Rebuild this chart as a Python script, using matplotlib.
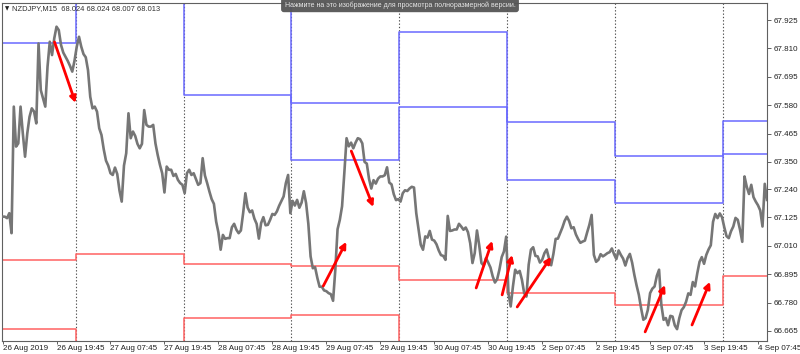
import matplotlib
matplotlib.use("Agg")
import matplotlib.pyplot as plt
import numpy as np

# ---------------- data ----------------
# half-hourly close prices (every 2 M15 bars), starting 26 Aug 2019 07:45
closes = [
 67.128, 67.128, 67.122, 67.142, 67.061, 67.574, 67.412, 67.425, 67.574, 67.466,
 67.371, 67.466, 67.533, 67.567, 67.554, 67.506, 67.830, 67.641, 67.608, 67.574,
 67.736, 67.837, 67.783, 67.851, 67.898, 67.884, 67.824, 67.793, 67.776, 67.759,
 67.739, 67.716, 67.760, 67.817, 67.857, 67.817, 67.787, 67.774, 67.722, 67.614,
 67.567, 67.574, 67.554, 67.486, 67.459, 67.401, 67.355, 67.335, 67.304, 67.297,
 67.327, 67.301, 67.234, 67.189, 67.335, 67.385, 67.547, 67.446, 67.473, 67.455,
 67.423, 67.405, 67.423, 67.560, 67.500, 67.493, 67.493, 67.500, 67.425, 67.378,
 67.338, 67.304, 67.226, 67.331, 67.318, 67.318, 67.293, 67.301, 67.277, 67.264,
 67.257, 67.223, 67.304, 67.318, 67.297, 67.304, 67.280, 67.257, 67.264, 67.365,
 67.295, 67.264, 67.230, 67.199, 67.180, 67.108, 67.064, 66.994, 67.054, 67.038,
 67.041, 67.041, 67.085, 67.099, 67.075, 67.061, 67.072, 67.142, 67.223, 67.165,
 67.146, 67.153, 67.120, 67.099, 67.039, 67.102, 67.126, 67.093, 67.095, 67.115,
 67.139, 67.135, 67.149, 67.172, 67.191, 67.210, 67.264, 67.297, 67.142, 67.192,
 67.173, 67.196, 67.164, 67.185, 67.231, 67.183, 67.099, 66.967, 66.919, 66.923,
 66.880, 66.844, 66.844, 66.829, 66.826, 66.818, 66.814, 66.787, 66.913, 67.077,
 67.115, 67.170, 67.304, 67.446, 67.413, 67.428, 67.405, 67.428, 67.446, 67.442,
 67.425, 67.350, 67.343, 67.281, 67.242, 67.276, 67.262, 67.282, 67.291, 67.291,
 67.296, 67.328, 67.266, 67.259, 67.219, 67.195, 67.199, 67.189, 67.223, 67.235,
 67.232, 67.242, 67.249, 67.246, 67.142, 67.077, 67.014, 66.994, 67.048, 67.043,
 67.070, 67.035, 67.031, 67.016, 66.991, 66.972, 66.969, 66.953, 67.131, 67.070,
 67.072, 67.076, 67.076, 67.099, 67.088, 67.075, 67.084, 67.065, 67.020, 66.940,
 66.980, 67.072, 67.012, 66.940, 66.930, 66.960, 66.942, 66.922, 66.886, 66.861,
 66.875, 66.914, 66.964, 66.987, 67.047, 66.818, 66.764, 66.845, 66.913, 66.899,
 66.908, 66.872, 66.818, 66.804, 66.933, 66.994, 67.004, 66.969, 66.967, 66.942,
 66.953, 66.980, 66.995, 66.960, 66.931, 66.977, 67.038, 67.039, 67.061, 67.084,
 67.111, 67.128, 67.110, 67.081, 67.085, 67.056, 67.037, 67.022, 67.027, 67.031,
 67.064, 67.095, 67.135, 66.973, 66.945, 66.953, 66.976, 66.967, 66.973, 66.980,
 66.984, 66.999, 66.975, 66.956, 66.991, 66.973, 66.958, 66.930, 66.960, 66.977,
 66.942, 66.892, 66.849, 66.811, 66.757, 66.710, 66.717, 66.750, 66.818, 66.836,
 66.845, 66.888, 66.913, 66.771, 66.710, 66.717, 66.688, 66.726, 66.723, 66.687,
 66.672, 66.717, 66.749, 66.761, 66.783, 66.817, 66.811, 66.863, 66.845, 66.899,
 66.945, 66.964, 66.937, 66.973, 66.995, 67.012, 67.107, 67.139, 67.122, 67.141,
 67.126, 67.085, 67.049, 67.041, 67.069, 67.088, 67.123, 67.115, 67.075, 67.026,
 67.291, 67.249, 67.220, 67.257, 67.207, 67.189, 67.174, 67.153, 67.088, 67.261,
 67.196,
]
bars_per_sample = 2

# day boundaries (bar index of midnight) and daily pivot levels
day_starts = [0, 65, 161, 257, 353, 449, 545, 641]
last_bar = 680
blue_hi = [68.10, 68.10, 68.10, 67.588, 67.875, 67.511, 67.374, 67.516]
blue_lo = [67.833, 68.05, 67.621, 67.358, 67.574, 67.276, 67.185, 67.382]
red_hi = [66.954, 66.976, 66.938, 66.928, 66.872, 66.818, 66.768, 66.887]
red_lo = [66.672, 66.50, 66.716, 66.730, 66.50, 66.50, 66.50, 66.50]

# x-axis labels every 48 bars
xtick_labels = ["26 Aug 2019", "26 Aug 19:45", "27 Aug 07:45", "27 Aug 19:45",
                "28 Aug 07:45", "28 Aug 19:45", "29 Aug 07:45", "29 Aug 19:45",
                "30 Aug 07:45", "30 Aug 19:45", "2 Sep 07:45", "2 Sep 19:45",
                "3 Sep 07:45", "3 Sep 19:45", "4 Sep 07:45"]
ytick_values = [67.925, 67.810, 67.695, 67.580, 67.465, 67.350, 67.240,
                67.125, 67.010, 66.895, 66.780, 66.665]

# hand-drawn arrows: (bar_start, price_start, bar_end, price_end)
arrows = [
    (46.2, 67.836, 64.9, 67.589),
    (285.3, 66.847, 305.8, 67.026),
    (310.2, 67.394, 329.8, 67.167),
    (421.3, 66.839, 435.6, 67.030),
    (444.4, 66.811, 453.3, 66.973),
    (457.8, 66.762, 488.0, 66.965),
    (571.6, 66.661, 589.3, 66.851),
    (613.3, 66.689, 629.3, 66.864),
]

title = "NZDJPY,M15  68.024 68.024 68.007 68.013"
tooltip = "Нажмите на это изображение для просмотра полноразмерной версии."

# ---------------- plot ----------------
plt.rcParams['font.family'] = ['Liberation Sans', 'DejaVu Sans']
fig = plt.figure(figsize=(8.0, 3.54), dpi=100)
ax = fig.add_axes([2/800, 13/354, 765/800, 338/354])

ax.set_xlim(-0.5, last_bar)
ax.set_ylim(66.624, 67.994)

# day separators
for d in day_starts[1:]:
    ax.axvline(d, color='#505050', lw=0.8, ls=(0, (1.2, 1.8)), zorder=1)

def steps(levels):
    xs = day_starts + [last_bar]
    ys = levels + [levels[-1]]
    return xs, ys

for lv in (blue_hi, blue_lo):
    xs, ys = steps(lv)
    ax.step(xs, ys, where='post', color='#6a6aff', lw=1.1, zorder=2)
for lv in (red_hi, red_lo):
    xs, ys = steps(lv)
    ax.step(xs, ys, where='post', color='#ff6262', lw=1.1, zorder=2)

xb = np.arange(len(closes)) * bars_per_sample
ax.plot(xb, closes, color='#767676', lw=1.9, zorder=3)

for x0, y0, x1, y1 in arrows:
    ax.annotate("", xy=(x1, y1), xytext=(x0, y0),
                arrowprops=dict(arrowstyle='-|>', color='#ff0000', lw=2.0,
                                mutation_scale=9, shrinkA=0, shrinkB=0),
                zorder=5)

# axes styling
for s in ax.spines.values():
    s.set_color('#606060')
    s.set_linewidth(0.8)

ax.yaxis.tick_right()
ax.set_yticks(ytick_values)
ax.set_yticklabels([f"{v:.3f}" for v in ytick_values])
ax.tick_params(axis='y', direction='out', length=3, width=0.7, colors='#606060',
               labelcolor='#202020', labelsize=5.8, pad=2)

xticks = [48 * i for i in range(len(xtick_labels))]
ax.set_xticks(xticks)
ax.set_xticklabels(xtick_labels, ha='left')
ax.tick_params(axis='x', direction='out', length=2, width=0.7, colors='#606060',
               labelcolor='#202020', labelsize=5.8, pad=1)

fig.text(5/800, 1 - 9/354, "\u25BC", fontsize=4, va='center', ha='left', color='#202020',
         family=['DejaVu Sans'])
fig.text(12/800, 1 - 9/354, title, fontsize=5.4, va='center', ha='left', color='#303030')

fig.text(400/800, 1 - 5/354, tooltip, fontsize=5.0, va='center', ha='center', color='#e8e8e8',
         bbox=dict(boxstyle='round,pad=0.5,rounding_size=0.4', facecolor='#555555',
                   edgecolor='none', alpha=0.95))

fig.savefig("out.png", dpi=100, facecolor='white')
